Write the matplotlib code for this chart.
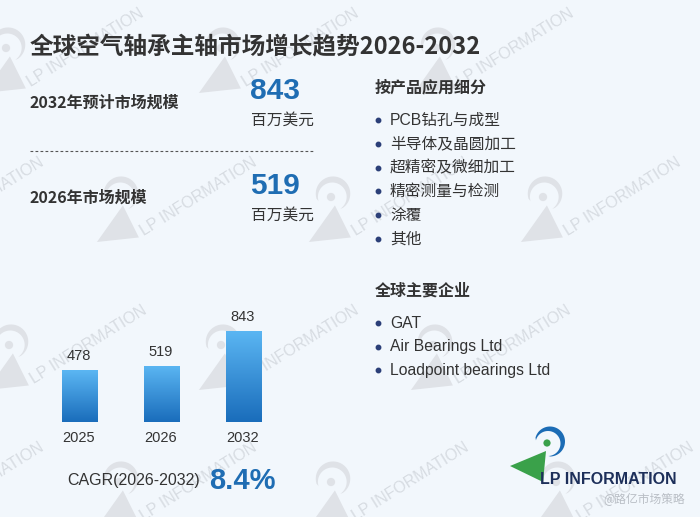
import numpy as np
import matplotlib
matplotlib.use("Agg")
import matplotlib.pyplot as plt
from matplotlib.patches import Polygon, Circle

plt.rcParams['font.family'] = ['Liberation Sans', 'Noto Sans CJK SC', 'DejaVu Sans']

# data
years = ['2025', '2026', '2032']
sizes = [478, 519, 843]
size_2032 = '843'
size_2026 = '519'
unit = '百万美元'
cagr_label = 'CAGR(2026-2032)'
cagr = '8.4%'
title = '全球空气轴承主轴市场增长趋势2026-2032'
seg_title = '按产品应用细分'
segments = ['PCB钻孔与成型', '半导体及晶圆加工', '超精密及微细加工', '精密测量与检测', '涂覆', '其他']
comp_title = '全球主要企业'
companies = ['GAT', 'Air Bearings Ltd', 'Loadpoint bearings Ltd']

BG = '#f2f7fc'
BLUE = '#1f6db3'
DARK = '#333333'
WM_TXT = '#d7dce2'
WM_ICON = '#dfe2e7'

fig = plt.figure(figsize=(7, 5.17), dpi=100, facecolor=BG)
ax = fig.add_axes([0, 0, 1, 1])
ax.set_xlim(0, 700)
ax.set_ylim(517, 0)
ax.axis('off')
ax.set_facecolor(BG)


def logo_icon(cx, cy, s, rot, c_arc, c_mark, z=1):
    t = np.deg2rad(rot)

    def tr(pts):
        pts = np.asarray(pts, dtype=float) * s
        x = pts[:, 0] * np.cos(t) + pts[:, 1] * np.sin(t)
        y = -pts[:, 0] * np.sin(t) + pts[:, 1] * np.cos(t)
        return np.column_stack([x + cx, y + cy])

    # crescent bowl, thick at top right, thin at the ends
    a = np.deg2rad(np.linspace(165, -88, 50))
    outer = np.column_stack([3 + 15 * np.cos(a), -1.5 - 15 * np.sin(a)])
    inner = np.column_stack([1 + 12.5 * np.cos(a[::-1]), 0.5 - 12.5 * np.sin(a[::-1])])
    ax.add_patch(Polygon(tr(np.vstack([outer, inner])), closed=True, fc=c_arc, ec='none', zorder=z))
    ax.add_patch(Polygon(tr([(-37, 23), (-1, 8), (-4, 39)]), closed=True, fc=c_mark, ec='none', zorder=z))
    ax.add_patch(Circle(tr([(0, 0)])[0], 3.6 * s, fc=c_mark, ec='none', zorder=z))


# watermark
wm_text = [(85, 48), (300, 48), (515, 48),
           (-15, 197), (198, 197), (410, 197), (622, 197),
           (88, 345), (300, 345), (512, 345),
           (-15, 482), (198, 482), (410, 482), (635, 482)]
for x, y in wm_text:
    ax.text(x, y, 'LP INFORMATION', rotation=32, ha='center', va='center',
            fontsize=11.5, color=WM_TXT, zorder=0, clip_on=True)
    logo_icon(x - 79, y, 1.15, 32, WM_ICON, WM_ICON, z=0)

# title
ax.text(30, 47, title, fontsize=17, fontweight='bold', color=DARK,
        family=['Noto Sans CJK SC'], va='center', ha='left')

# key figures
ax.text(30, 103, '2032年预计市场规模', fontsize=11.5, fontweight='bold', color=DARK,
        family=['Noto Sans CJK SC'], va='center')
ax.text(250, 91, size_2032, fontsize=21.5, fontweight='bold', color=BLUE, va='center')
ax.text(251, 120, unit, fontsize=11.3, color=DARK, family=['Noto Sans CJK SC'], va='center')
ax.plot([30, 315], [151, 151], color='#555555', lw=0.8, ls=(0, (2.5, 2)))
ax.text(30, 198, '2026年市场规模', fontsize=11.5, fontweight='bold', color=DARK,
        family=['Noto Sans CJK SC'], va='center')
ax.text(250, 186, size_2026, fontsize=21.5, fontweight='bold', color=BLUE, va='center')
ax.text(251, 215, unit, fontsize=11.3, color=DARK, family=['Noto Sans CJK SC'], va='center')

# CAGR
ax.text(200, 481, cagr_label, fontsize=11.5, color=DARK, ha='right', va='center')
ax.text(209, 481, cagr, fontsize=21, fontweight='bold', color=BLUE, ha='left', va='center')

# right column
ax.text(375, 87, seg_title, fontsize=11.5, fontweight='bold', color=DARK,
        family=['Noto Sans CJK SC'], va='center')
for i, s in enumerate(segments):
    y = 120 + i * 23.8
    ax.plot(378, y, 'o', ms=3.2, color='#2b3f78')
    ax.text(390, y, s, fontsize=11.3, color=DARK, va='center')
ax.text(375, 291, comp_title, fontsize=11.5, fontweight='bold', color=DARK,
        family=['Noto Sans CJK SC'], va='center')
for i, s in enumerate(companies):
    y = 323 + i * 23.5
    ax.plot(378, y, 'o', ms=3.2, color='#2b3f78')
    ax.text(390, y, s, fontsize=11.3, color=DARK, va='center')

# logo
logo_icon(547, 443, 1.0, 0, '#1c6cb5', '#3aa14a', z=3)
ax.text(540, 480, 'LP INFORMATION', fontsize=11.5, fontweight='bold', color='#1d2f5a',
        va='center', ha='left', zorder=3)
ax.text(685, 500, '@路亿市场策略', fontsize=8.5, color='#b9bec5', ha='right', va='center',
        family=['Noto Sans CJK SC'], zorder=4)

# bar chart
bax = fig.add_axes([20 / 700, (517 - 422) / 517, 280 / 700, 122 / 517])
bax.patch.set_alpha(0)
bax.axis('off')
xs = np.arange(len(years))
bars = bax.bar(xs, sizes, width=0.427, color='none', edgecolor='none')
grad = np.linspace(0, 1, 100).reshape(-1, 1)
cmap = matplotlib.colors.LinearSegmentedColormap.from_list('g', ['#1a6dbb', '#5bb6f3'])
for b, v, yr in zip(bars, sizes, years):
    x0 = b.get_x()
    im = bax.imshow(grad, extent=(x0, x0 + b.get_width(), 0, v), origin='lower',
                    cmap=cmap, aspect='auto', zorder=2)
    im.set_clip_path(b)
    bax.annotate(str(v), (x0 + b.get_width() / 2, v), xytext=(0, 5), textcoords='offset points',
                 ha='center', va='bottom', fontsize=10.5, color=DARK, annotation_clip=False)
    bax.annotate(yr, (x0 + b.get_width() / 2, 0), xytext=(0, -11.5), textcoords='offset points',
                 ha='center', va='center', fontsize=10.5, color=DARK, annotation_clip=False)
bax.set_xlim(-0.72, -0.72 + 280 / 82)
bax.set_ylim(0, 1130)

fig.savefig('out.png', dpi=100, facecolor=BG)
